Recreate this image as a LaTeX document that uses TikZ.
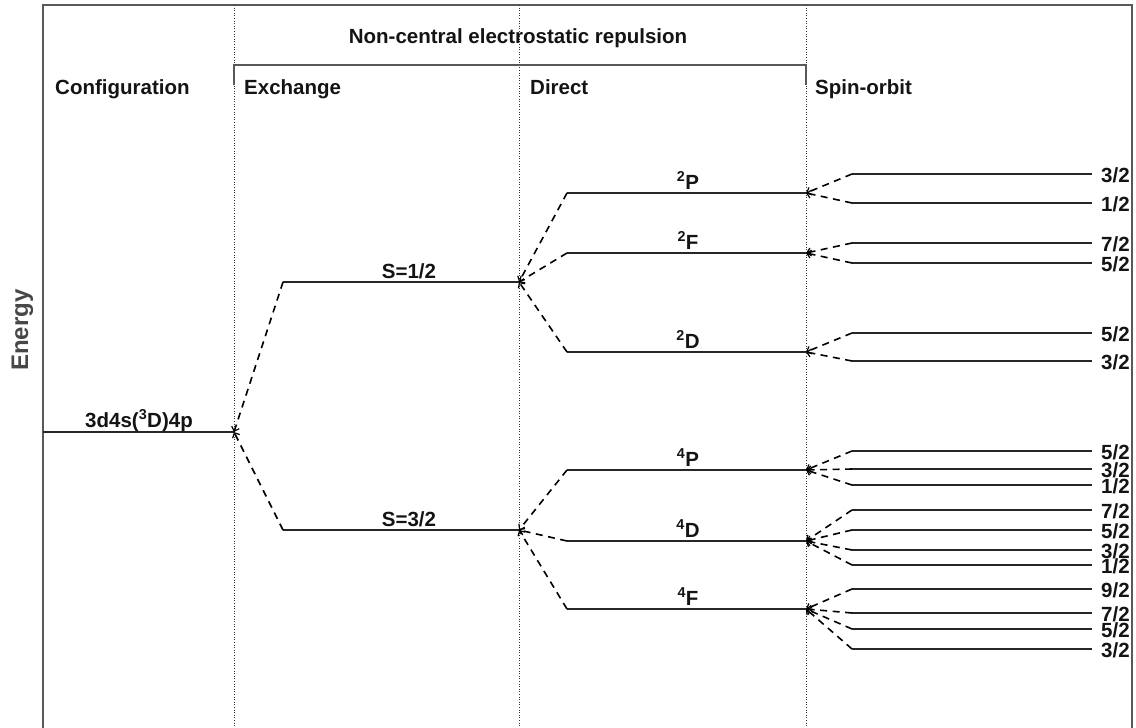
\documentclass[tikz,border=0pt]{standalone}
\usepackage{fontspec}
\setmainfont{Liberation Sans}
\usetikzlibrary{arrows.meta}
\begin{document}
\begin{tikzpicture}[x=1pt,y=-1pt,
 txt/.style={font=\fontsize{20.5}{24}\selectfont\bfseries, inner sep=0pt, text=black!92},
 head/.style={txt, anchor=base west},
 lab/.style={txt, anchor=base},
 lev/.style={line width=2.2pt, draw=black!85},
 conn/.style={line width=1.6pt, dash pattern=on 7pt off 5.5pt, draw=black,
   -{Straight Barb[length=4pt,width=8pt,line width=1.2pt]}},
 frame/.style={line width=1.4pt, draw=black!65},
 sep/.style={line width=1pt, dash pattern=on 1pt off 1.6pt, draw=black!80}]
\useasboundingbox (0,0) rectangle (1136,728);
% frame
\coordinate (TL) at (43,5); \coordinate (TR) at (1132,5);
\coordinate (BL) at (43,728); \coordinate (BR) at (1132,728);
\draw[frame] (BL) -- (TL) -- (TR) -- (BR);
% dotted separators
\foreach \x/\n in {234/a,519/b,806/c}{
  \coordinate (sep\n t) at (\x,5); \coordinate (sep\n b) at (\x,728);
  \draw[sep] (sep\n t) -- (sep\n b);
}
% bracket
\coordinate (brA) at (234,85); \coordinate (brB) at (234,65);
\coordinate (brC) at (806,65); \coordinate (brD) at (806,85);
\draw[frame] (brA) -- (brB) -- (brC) -- (brD);
% headers
\node[lab] (nc) at (518,43) {Non-central electrostatic repulsion};
\node[head] (hconf) at (55,94) {Configuration};
\node[head] (hexch) at (244,94) {Exchange};
\node[head] (hdir) at (530,94) {Direct};
\node[head] (hso) at (815,94) {Spin-orbit};
\node[txt, font=\fontsize{24}{28}\selectfont\bfseries, rotate=90, anchor=base, text=black!72] (energy) at (28,330) {Energy};
% configuration
\coordinate (cL) at (43,432); \coordinate (cR) at (234,432);
\draw[lev] (cL) -- (cR);
\node[lab] (clab) at (139,427) {3d4s(\textsuperscript{3}D)4p};
% exchange
\coordinate (s1L) at (283,282); \coordinate (s1R) at (519,282);
\coordinate (s3L) at (283,530); \coordinate (s3R) at (519,530);
\draw[lev] (s1L) -- (s1R);
\draw[lev] (s3L) -- (s3R);
\draw[conn] (s1L) -- (cR);
\draw[conn] (s3L) -- (cR);
\node[lab] (s1lab) at (409,278) {S=1/2};
\node[lab] (s3lab) at (409,526) {S=3/2};
% direct
\foreach \n/\y/\p/\m/\L in {P2/193/s1/2/P, F2/253/s1/2/F, D2/352/s1/2/D,
                           P4/470/s3/4/P, D4/541/s3/4/D, F4/609/s3/4/F}{
  \coordinate (\n L) at (567,\y); \coordinate (\n R) at (806,\y);
  \draw[lev] (\n L) -- (\n R);
  \draw[conn] (\n L) -- (\p R);
  \node[lab] (\n lab) at (688,\y-4) {\textsuperscript{\m}\L};
}
% spin-orbit
\foreach \p/\i/\y/\j in {P2/a/174/3, P2/b/203/1,
                         F2/a/243/7, F2/b/263/5,
                         D2/a/333/5, D2/b/361/3,
                         P4/a/451/5, P4/b/469/3, P4/c/485/1,
                         D4/a/510/7, D4/b/530/5, D4/c/550/3, D4/d/565/1,
                         F4/a/589/9, F4/b/613/7, F4/c/629/5, F4/d/649/3}{
  \coordinate (\p\i L) at (852,\y); \coordinate (\p\i R) at (1092,\y);
  \draw[lev] (\p\i L) -- (\p\i R);
  \draw[conn] (\p\i L) -- (\p R);
  \node[txt, anchor=base west] (\p\i lab) at (1101,\y+8.5) {\j/2};
}
\end{tikzpicture}
\end{document}
